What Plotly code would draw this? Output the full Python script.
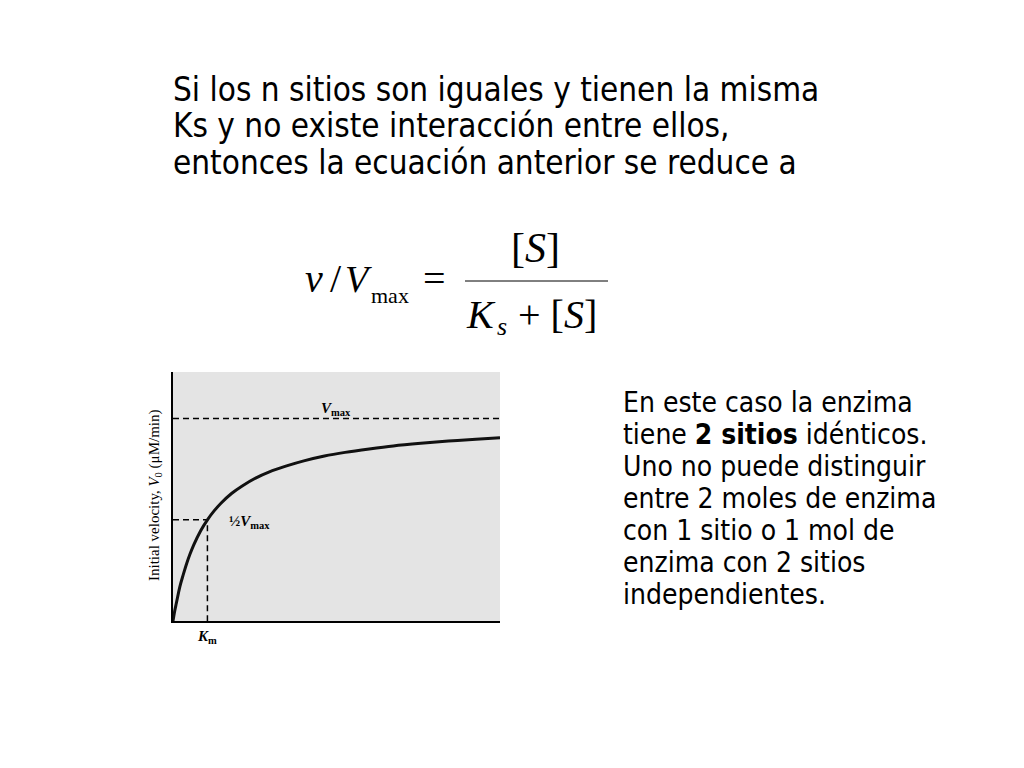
import plotly.graph_objects as go

# substrate concentration (in units of Km) and initial velocity (fraction of Vmax)
s_conc = [0, 0.05, 0.1, 0.2, 0.3, 0.4, 0.5, 0.6, 0.8, 1.0, 1.2, 1.4, 1.7, 2.0, 2.4, 2.8,
          3.3, 3.8, 4.4, 5.0, 5.7, 6.4, 7.2, 8.0, 8.8, 9.5]
v_init = [0, 0.05, 0.09, 0.17, 0.23, 0.285, 0.333, 0.375, 0.445, 0.5, 0.545, 0.583, 0.63,
          0.666, 0.706, 0.737, 0.766, 0.791, 0.815, 0.833, 0.85, 0.865, 0.878, 0.889, 0.898, 0.905]

km = 1
vmax = 1
half_vmax = 0.5
x_max = 9.5
y_max = 1.23

heading = ["Si los n sitios son iguales y tienen la misma",
           "Ks y no existe interacción entre ellos,",
           "entonces la ecuación anterior se reduce a"]
side_text = ["En este caso la enzima",
             "tiene <b>2 sitios</b> idénticos.",
             "Uno no puede distinguir",
             "entre 2 moles de enzima",
             "con 1 sitio o 1 mol de",
             "enzima con 2 sitios",
             "independientes."]

W, H = 1024, 768
OFF = 8  # page body margin


def px(x):
    return (x - OFF) / W


def py(y):
    return 1 - (y - OFF) / H


sans = "DejaVu Sans Condensed, DejaVu Sans, Verdana, sans-serif"
serif = "Liberation Serif, Times New Roman, serif"

fig = go.Figure()

dash = dict(color="black", width=1.5, dash="6px,4px")
fig.add_trace(go.Scatter(x=[0, x_max], y=[vmax, vmax], mode="lines", line=dash, hoverinfo="skip"))
fig.add_trace(go.Scatter(x=[0, km, km], y=[half_vmax, half_vmax, 0], mode="lines", line=dash,
                         hoverinfo="skip"))
fig.add_trace(go.Scatter(x=s_conc, y=v_init, mode="lines",
                         line=dict(color="#111111", width=3, shape="spline", smoothing=1.0),
                         hoverinfo="skip"))

fig.update_layout(
    width=W, height=H,
    margin=dict(l=0, r=0, t=0, b=0),
    paper_bgcolor="white",
    plot_bgcolor="#e4e4e4",
    showlegend=False,
    xaxis=dict(domain=[px(173), px(500)], range=[0, x_max],
               showline=True, linecolor="black", linewidth=2,
               showgrid=False, zeroline=False, ticks="",
               tickvals=[km], ticktext=["<b><i>K</i><sub>m</sub></b>"],
               tickfont=dict(family=serif, size=15, color="black")),
    yaxis=dict(domain=[py(621), py(372)], range=[0, y_max],
               showline=True, linecolor="black", linewidth=2,
               showgrid=False, zeroline=False, showticklabels=False, ticks=""),
)


def note(text, x, y, size, family, xanchor="left", **kw):
    fig.add_annotation(text=text, x=px(x), y=py(y), xref="paper", yref="paper",
                       xanchor=xanchor, yanchor="middle", showarrow=False,
                       font=dict(family=family, size=size, color="black"), **kw)


# heading, one line per annotation for the tight slide spacing
for i, line in enumerate(heading):
    note(line, 171, 89 + i * 36.5, 33, sans)

# side text
for i, line in enumerate(side_text):
    note(line, 621, 402 + i * 32, 28, sans)

# formula v/Vmax = [S] / (Ks + [S])
note("<i>v</i>", 303, 279, 40, serif)
note("/", 328, 278, 40, serif)
note("<i>V</i>", 343, 279, 38, serif)
note("max", 369, 295, 22, serif)
note("=", 421, 278, 40, serif)
note("[<i>S</i>]", 535, 248, 42, serif, xanchor="center")
note("<i>K</i>", 464, 314, 40, serif)
note("<i>s</i>", 495, 326, 26, serif)
note("+ [<i>S</i>]", 516, 314, 40, serif)
fig.add_shape(type="line", xref="paper", yref="paper",
              x0=px(465), x1=px(608), y0=py(281), y1=py(281),
              line=dict(color="black", width=1))

# chart labels
note("<b><i>V</i><sub>max</sub></b>", 336, 409, 15, serif, xanchor="center")
note("<b>½<i>V</i><sub>max</sub></b>", 227, 522, 15, serif)
note("Initial velocity, <i>V</i><sub>0</sub> (μM/min)", 155, 496, 15, serif,
     xanchor="center", textangle=-90)

fig.write_html("out.html")
